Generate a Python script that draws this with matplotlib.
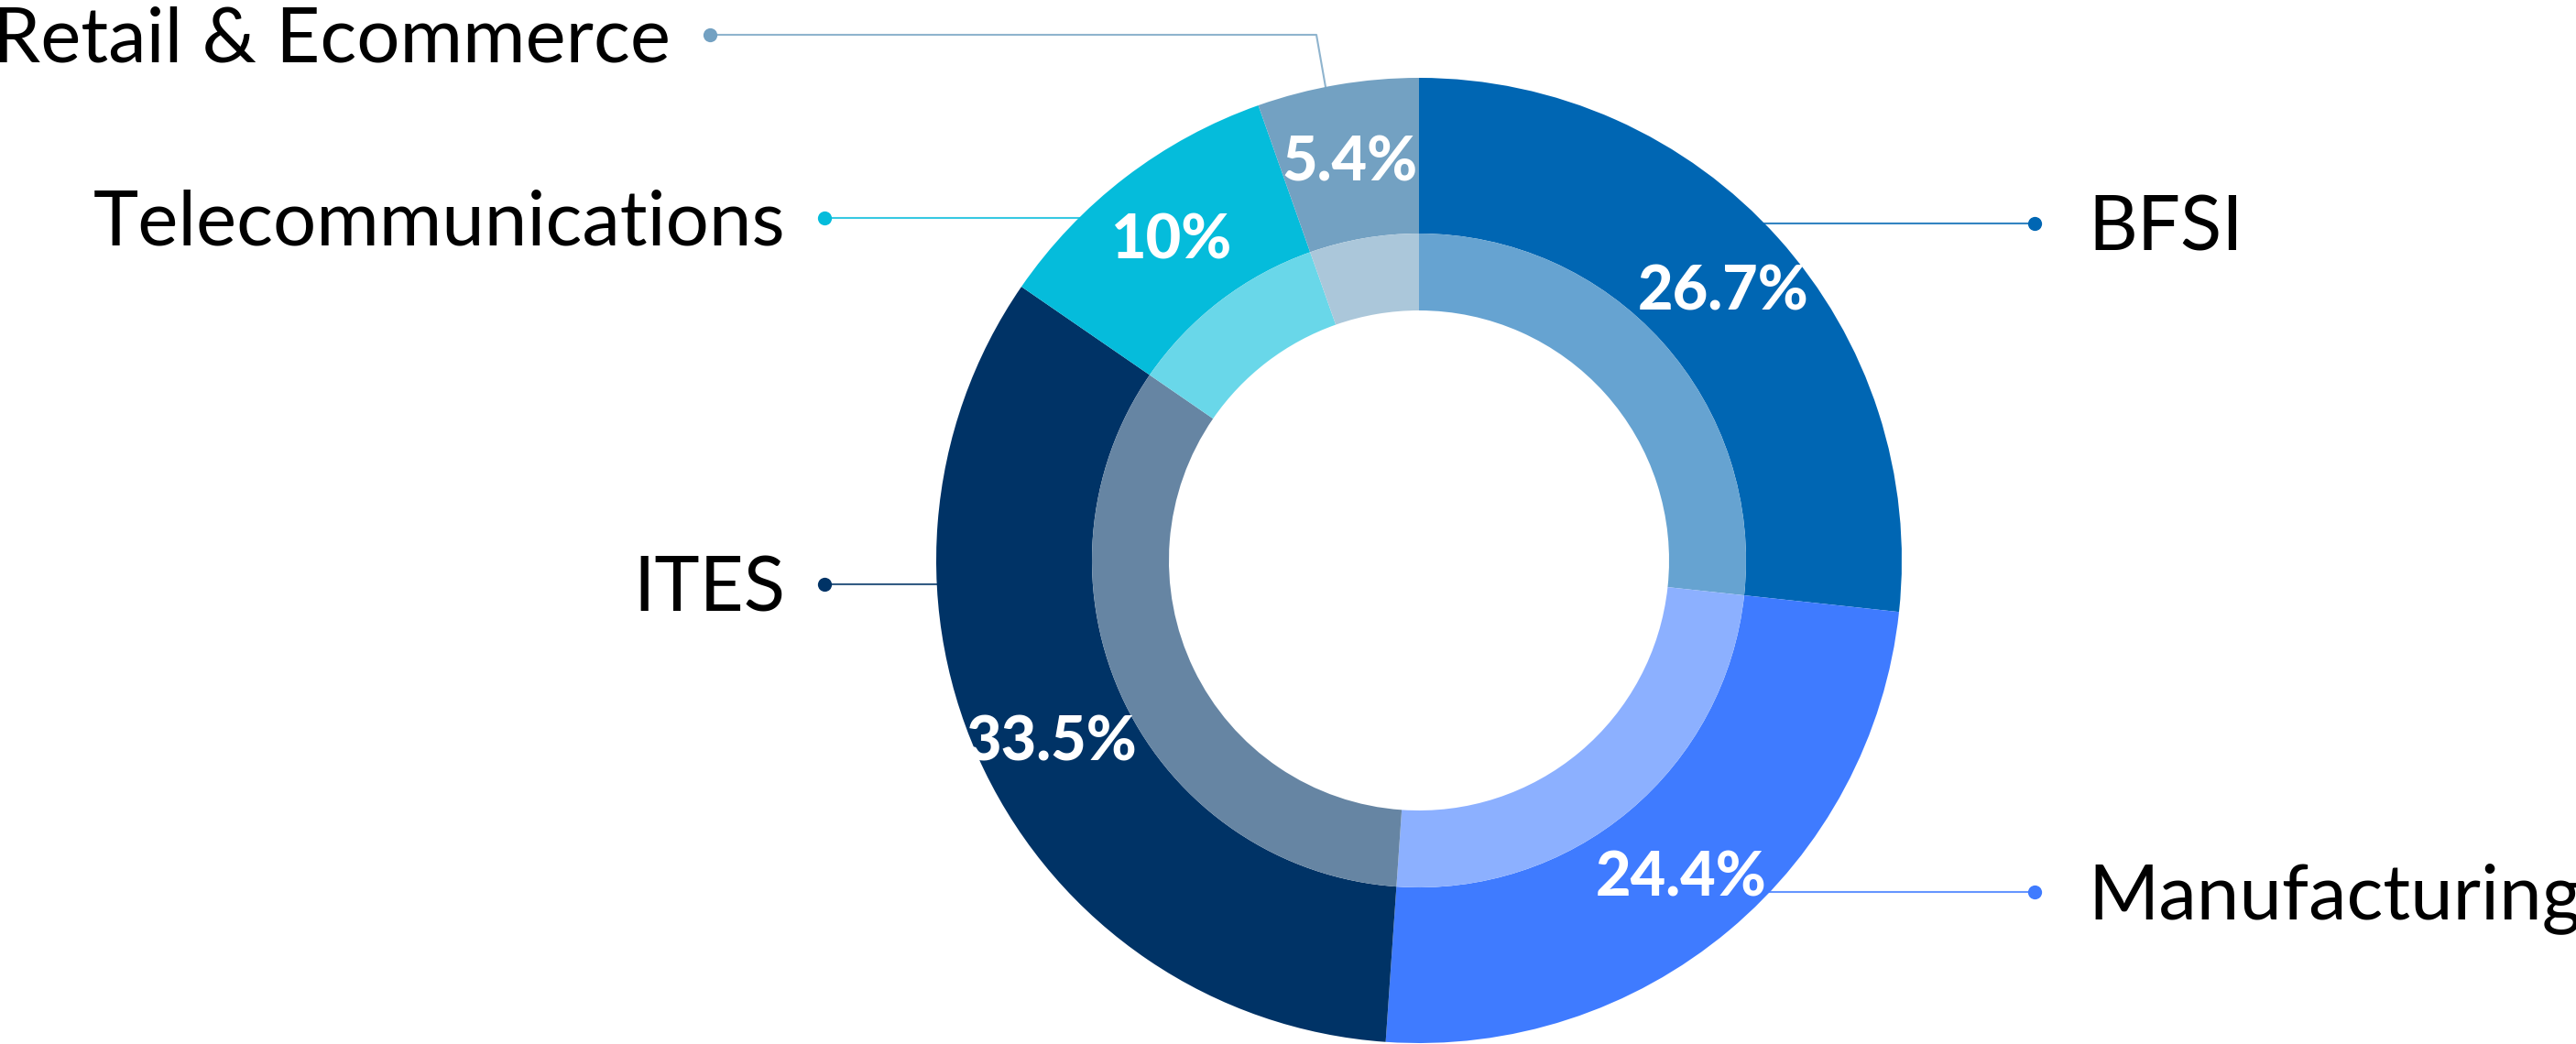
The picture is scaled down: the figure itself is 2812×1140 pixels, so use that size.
import numpy as np
import matplotlib
matplotlib.use("Agg")
import matplotlib.pyplot as plt
from matplotlib.colors import to_rgb

# data
sectors = ["BFSI", "Manufacturing", "ITES", "Telecommunications", "Retail & Ecommerce"]
shares = [26.7, 24.4, 33.5, 10, 5.4]
share_labels = ["26.7%", "24.4%", "33.5%", "10%", "5.4%"]
colors = ["#0066B3", "#3F7BFF", "#003366", "#05BCDB", "#73A1C2"]

# layout (pixels, y measured from the bottom)
W, H = 2812, 1140
cx, cy = 1549, H - 612
r_out, r_mid, r_hole = 527, 357, 273

# label text placement: dot x, line y, text side
label_dots = {
    "BFSI": (2221, H - 244, "left"),
    "Manufacturing": (2221, H - 974, "left"),
    "ITES": (900, H - 638, "right"),
    "Telecommunications": (900, H - 238, "right"),
    "Retail & Ecommerce": (775, H - 38, "right"),
}

fig = plt.figure(figsize=(W / 100, H / 100), dpi=100)
ax = fig.add_axes([0, 0, 1, 1])

# outer ring
ax.pie(shares, colors=colors, radius=r_out, center=(cx, cy), startangle=90,
       counterclock=False, wedgeprops=dict(width=r_out - r_mid, linewidth=0))

# inner lighter band (white at 40% over the slice colour)
light = [tuple(c + (1 - c) * 0.4 for c in to_rgb(col)) for col in colors]
ax.pie(shares, colors=light, radius=r_mid, center=(cx, cy), startangle=90,
       counterclock=False, wedgeprops=dict(width=r_mid - r_hole, linewidth=0))

# percentage labels in the middle of the outer ring
total = sum(shares)
start = 90.0
r_lab = (r_out + r_mid) / 2 + 4
for val, txt in zip(shares, share_labels):
    mid = np.deg2rad(start - 360 * val / total / 2)
    start -= 360 * val / total
    ax.text(cx + r_lab * np.cos(mid), cy + r_lab * np.sin(mid), txt,
            color="white", fontsize=48, fontweight="black", family="Lato",
            ha="center", va="center_baseline")

# leader lines, dots, and sector names
for name, col in zip(sectors, colors):
    dx, dy, side = label_dots[name]
    if name == "Retail & Ecommerce":
        # elbow line: horizontal then down to the ring
        ex = 1447
        ey = cy + np.sqrt(r_out ** 2 - (cx - ex) ** 2)
        ax.plot([dx, 1437, ex], [dy, dy, ey], color=col, lw=1.5, alpha=0.8)
    else:
        off = np.sqrt(r_out ** 2 - (dy - cy) ** 2)
        ex = cx + off if side == "left" else cx - off
        ax.plot([dx, ex], [dy, dy], color=col, lw=1.5, alpha=0.8)
    ax.plot(dx, dy, "o", color=col, markersize=11, markeredgewidth=0)
    if side == "left":
        ax.text(dx + 58, dy - 29, name, fontsize=60, family="Lato",
                ha="left", va="baseline", color="black")
    else:
        ax.text(dx - 43, dy - 29, name, fontsize=60, family="Lato",
                ha="right", va="baseline", color="black")

ax.set_xlim(0, W)
ax.set_ylim(0, H)
ax.set_aspect("equal")
ax.axis("off")

fig.savefig("out.png", dpi=100)
